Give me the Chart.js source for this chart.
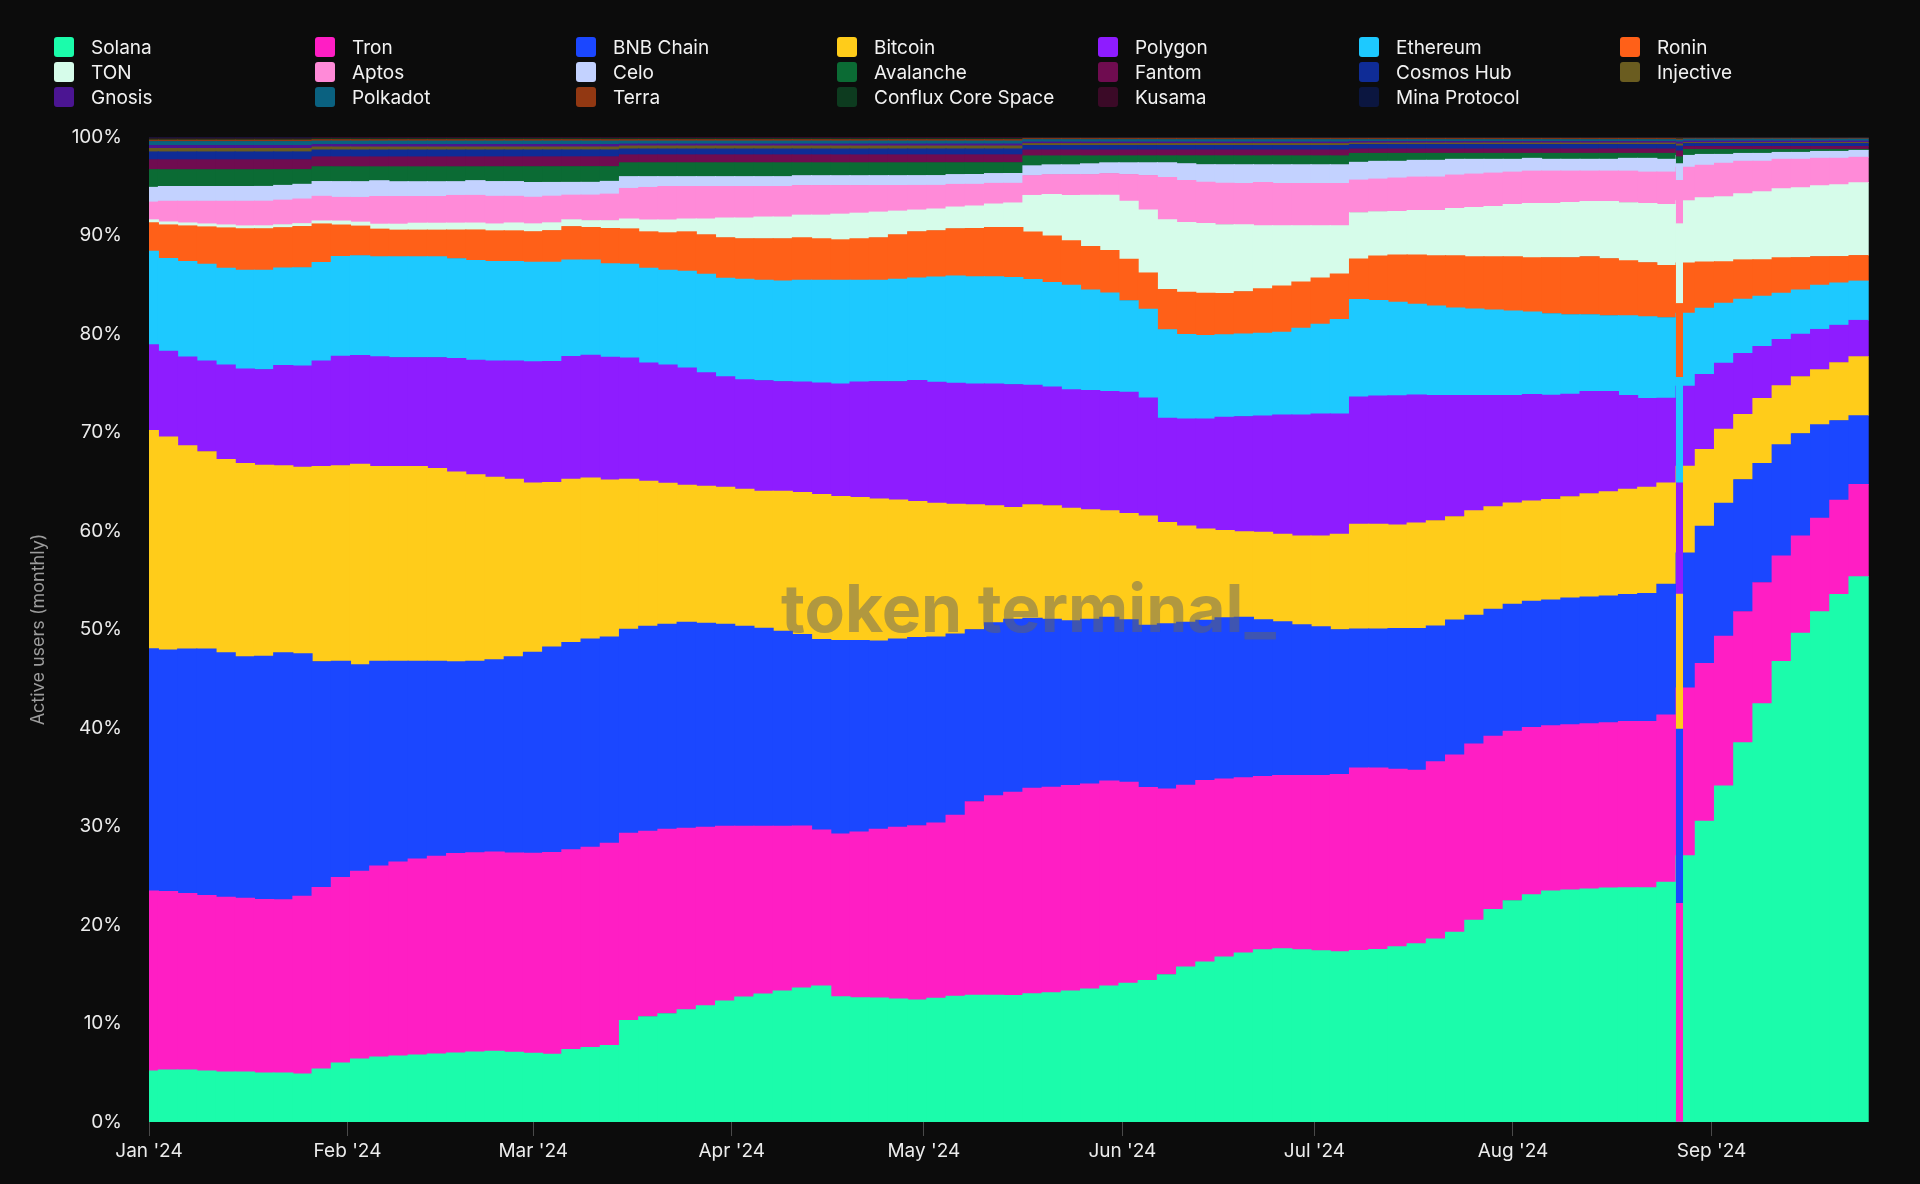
<!DOCTYPE html>
<html lang="en">
<head>
    <meta charset="UTF-8">
    <meta name="viewport" content="width=device-width, initial-scale=1.0">
    <title>Active users (monthly) by chain</title>
    <script src="https://cdn.jsdelivr.net/npm/chart.js"></script>
    <style>
        body {
            margin: 0;
            background-color: #0c0c0c;
            font-family: 'Inter', sans-serif;
            overflow: hidden;
        }
        #wrap {
            position: relative;
            width: 1920px;
            height: 1184px;
        }
        #legend {
            position: absolute;
            left: 54px;
            top: 37px;
            display: grid;
            grid-template-columns: repeat(7, 261px);
            row-gap: 5px;
            z-index: 2;
        }
        .item {
            display: flex;
            align-items: center;
            height: 20px;
            color: #f2f2f2;
            font-size: 19px;
            white-space: nowrap;
        }
        .swatch {
            width: 20px;
            height: 20px;
            border-radius: 3px;
            margin-right: 17px;
            flex: none;
        }
        #chartBox {
            position: absolute;
            left: 0;
            top: 0;
            width: 1920px;
            height: 1184px;
        }
    </style>
</head>
<body>
<div id="wrap">
    <div id="legend"></div>
    <div id="chartBox"><canvas id="usersChart"></canvas></div>
</div>

<script>
    // each bar covers 3 days, starting Jan 1 2024 (day 0) up to Sep 26
    const binDays = 3;
    const monthStartDay = [0, 31, 60, 91, 121, 152, 182, 213, 244];
    const monthLabels = ["Jan '24", "Feb '24", "Mar '24", "Apr '24", "May '24", "Jun '24", "Jul '24", "Aug '24", "Sep '24"];
    const yTicks = [0, 10, 20, 30, 40, 50, 60, 70, 80, 90, 100];

    const seriesNames = ['Solana', 'Tron', 'BNB Chain', 'Bitcoin', 'Polygon', 'Ethereum', 'Ronin',
        'TON', 'Aptos', 'Celo', 'Avalanche', 'Fantom', 'Cosmos Hub', 'Injective',
        'Gnosis', 'Polkadot', 'Terra', 'Conflux Core Space', 'Kusama', 'Mina Protocol'];
    const seriesColors = ['#1bfcab', '#ff1ec4', '#1b47ff', '#ffcc1a', '#8e1cff', '#1dc9ff', '#ff6018',
        '#d6fcea', '#ff8ad8', '#c3d2ff', '#0b6b34', '#6f0c50', '#0f2c96', '#6a5c20',
        '#4b1592', '#0a6180', '#923812', '#0d3b1f', '#3b0a27', '#0b1640'];

    // share of monthly active users, % (one value per 3-day bar)
    const solana = [
        5.2, 5.3, 5.3, 5.2, 5.1, 5.1, 5.0, 5.0, 4.9, 5.4,
        6.0, 6.4, 6.6, 6.7, 6.8, 6.9, 7.0, 7.1, 7.2, 7.1,
        7.0, 6.9, 7.4, 7.6, 7.8, 10.3, 10.7, 11.0, 11.4, 11.8,
        12.3, 12.7, 13.0, 13.3, 13.6, 13.8, 12.7, 12.6, 12.6, 12.5,
        12.4, 12.6, 12.8, 12.9, 12.9, 12.9, 13.0, 13.1, 13.3, 13.5,
        13.8, 14.1, 14.4, 15.0, 15.8, 16.3, 16.8, 17.2, 17.5, 17.6,
        17.5, 17.4, 17.3, 17.4, 17.5, 17.8, 18.1, 18.6, 19.3, 20.5,
        21.6, 22.5, 23.1, 23.5, 23.6, 23.7, 23.8, 23.8, 23.8, 24.4,
        27.0, 30.5, 34.1, 38.5, 42.5, 46.8, 49.7, 51.9, 53.7, 55.5];
    const tron = [
        18.3, 18.1, 17.9, 17.8, 17.7, 17.6, 17.6, 17.6, 18.1, 18.4,
        18.8, 19.0, 19.3, 19.6, 19.8, 20.0, 20.2, 20.2, 20.2, 20.2,
        20.3, 20.5, 20.3, 20.4, 20.6, 19.0, 18.8, 18.7, 18.4, 18.1,
        17.7, 17.3, 17.0, 16.7, 16.4, 15.8, 16.5, 16.8, 17.1, 17.4,
        17.7, 17.8, 18.4, 19.7, 20.3, 20.7, 20.8, 20.8, 20.8, 20.8,
        20.8, 20.4, 19.6, 18.9, 18.5, 18.5, 18.1, 17.8, 17.6, 17.6,
        17.7, 17.8, 18.0, 18.5, 18.4, 18.0, 17.6, 18.0, 18.0, 17.9,
        17.6, 17.2, 17.0, 16.8, 16.8, 16.8, 16.8, 16.9, 16.9, 17.0,
        17.0, 16.0, 15.2, 13.3, 12.3, 10.7, 9.9, 9.5, 9.6, 9.4];
    const bnbChain = [
        24.6, 24.5, 24.8, 25.0, 24.8, 24.5, 24.7, 25.1, 24.7, 22.9,
        21.9, 20.9, 20.7, 20.3, 20.0, 19.7, 19.4, 19.4, 19.5, 19.9,
        20.4, 20.9, 21.1, 21.2, 21.0, 20.7, 20.8, 20.8, 20.9, 20.7,
        20.5, 20.3, 20.1, 19.8, 19.4, 19.3, 19.6, 19.4, 19.1, 19.1,
        19.1, 18.9, 18.4, 17.5, 17.6, 17.6, 17.2, 17.0, 16.7, 16.7,
        16.6, 16.5, 16.5, 16.8, 16.6, 16.3, 16.4, 16.3, 15.9, 15.6,
        15.3, 15.1, 14.7, 14.1, 14.1, 14.3, 14.4, 13.8, 13.7, 13.1,
        12.9, 12.9, 12.8, 12.8, 12.9, 12.9, 12.9, 12.9, 13.0, 13.3,
        13.7, 13.9, 13.5, 13.4, 12.1, 11.3, 10.4, 9.5, 8.1, 7.0];
    const bitcoin = [
        22.2, 21.6, 20.6, 20.0, 19.6, 19.6, 19.4, 19.0, 19.0, 19.8,
        19.8, 20.3, 19.7, 19.7, 19.7, 19.5, 19.2, 18.9, 18.5, 18.0,
        17.2, 16.7, 16.6, 16.4, 16.0, 15.2, 14.7, 14.3, 13.9, 13.9,
        13.9, 13.9, 13.9, 14.2, 14.4, 14.7, 14.6, 14.5, 14.4, 14.1,
        13.8, 13.6, 13.2, 12.7, 11.9, 11.4, 11.5, 11.5, 11.4, 11.1,
        10.8, 10.8, 11.1, 10.3, 9.8, 9.3, 8.9, 8.7, 8.9, 8.9,
        9.0, 9.2, 9.7, 10.6, 10.6, 10.5, 10.7, 10.7, 10.5, 10.6,
        10.4, 10.3, 10.2, 10.2, 10.3, 10.5, 10.6, 10.7, 10.8, 10.3,
        8.8, 7.8, 7.5, 6.6, 6.6, 6.0, 5.8, 5.6, 5.9, 6.0];
    const polygon = [
        8.7, 8.7, 9.0, 9.2, 9.6, 9.6, 9.7, 10.2, 10.3, 10.7,
        11.1, 11.0, 11.1, 11.0, 11.0, 11.2, 11.5, 11.6, 11.8, 12.0,
        12.3, 12.3, 12.5, 12.5, 12.5, 12.3, 12.0, 12.0, 11.9, 11.5,
        11.2, 11.1, 11.2, 11.1, 11.2, 11.3, 11.4, 11.7, 11.9, 12.0,
        12.3, 12.3, 12.3, 12.3, 12.4, 12.5, 12.1, 12.0, 12.0, 12.1,
        12.1, 12.3, 12.0, 10.6, 10.9, 11.2, 11.5, 11.7, 11.8, 12.1,
        12.3, 12.4, 12.2, 12.9, 13.0, 13.1, 13.0, 12.7, 12.3, 11.7,
        11.3, 10.9, 10.8, 10.6, 10.4, 10.4, 10.2, 9.5, 9.0, 8.6,
        8.1, 7.6, 6.7, 6.2, 5.3, 4.7, 4.3, 4.1, 3.8, 3.7];
    const ethereum = [
        9.5, 9.4, 9.7, 9.8, 9.8, 10.0, 10.1, 9.9, 10.0, 10.0,
        10.1, 10.1, 10.1, 10.2, 10.2, 10.2, 10.1, 10.1, 10.1, 10.1,
        10.1, 10.1, 9.8, 9.7, 9.5, 9.5, 9.6, 9.6, 9.8, 10.0,
        10.0, 10.2, 10.2, 10.2, 10.3, 10.4, 10.5, 10.3, 10.3, 10.4,
        10.4, 10.7, 10.9, 10.9, 10.9, 10.9, 10.7, 10.6, 10.6, 10.2,
        10.0, 9.3, 9.0, 9.0, 8.6, 8.5, 8.4, 8.4, 8.4, 8.4,
        8.8, 9.1, 9.6, 9.9, 9.7, 9.5, 9.2, 9.1, 8.9, 8.8,
        8.7, 8.6, 8.4, 8.3, 8.1, 7.8, 7.7, 8.1, 8.3, 8.2,
        7.4, 6.7, 6.1, 5.5, 5.1, 4.7, 4.5, 4.5, 4.3, 4.0];
    const ronin = [
        2.9, 3.4, 3.6, 3.8, 4.1, 4.2, 4.2, 4.1, 4.2, 3.9,
        3.2, 3.0, 2.8, 2.7, 2.7, 2.7, 2.9, 3.1, 3.1, 3.1,
        3.1, 3.2, 3.4, 3.3, 3.6, 3.6, 3.7, 3.8, 4.0, 4.0,
        4.1, 4.1, 4.2, 4.3, 4.3, 4.2, 4.1, 4.2, 4.3, 4.5,
        4.7, 4.7, 4.8, 4.9, 5.0, 5.1, 4.8, 4.7, 4.5, 4.4,
        4.3, 4.2, 3.7, 4.1, 4.3, 4.3, 4.2, 4.3, 4.5, 4.7,
        4.7, 4.7, 4.6, 4.1, 4.5, 4.8, 5.0, 5.1, 5.3, 5.3,
        5.4, 5.5, 5.5, 5.7, 5.8, 5.9, 5.8, 5.6, 5.5, 5.3,
        5.1, 4.7, 4.2, 4.0, 3.7, 3.6, 3.3, 2.9, 2.7, 2.6];
    const ton = [
        0.3, 0.3, 0.3, 0.3, 0.3, 0.3, 0.3, 0.3, 0.3, 0.3,
        0.4, 0.4, 0.5, 0.6, 0.7, 0.7, 0.7, 0.7, 0.7, 0.8,
        0.8, 0.8, 0.7, 0.7, 0.8, 1.0, 1.2, 1.3, 1.3, 1.6,
        2.0, 2.1, 2.2, 2.2, 2.3, 2.4, 2.6, 2.6, 2.6, 2.4,
        2.2, 2.2, 2.2, 2.3, 2.4, 2.5, 3.7, 4.2, 4.6, 5.2,
        5.6, 5.9, 6.4, 7.1, 7.1, 7.1, 7.0, 6.8, 6.4, 6.1,
        5.7, 5.3, 4.9, 4.7, 4.5, 4.4, 4.5, 4.6, 4.8, 5.0,
        5.1, 5.3, 5.5, 5.5, 5.6, 5.6, 5.8, 5.9, 6.0, 6.2,
        6.3, 6.5, 6.6, 6.7, 6.9, 7.0, 7.1, 7.2, 7.3, 7.4];
    const aptos = [
        1.8, 2.1, 2.2, 2.3, 2.4, 2.5, 2.5, 2.5, 2.5, 2.5,
        2.4, 2.5, 2.8, 2.8, 2.7, 2.7, 2.8, 2.8, 2.8, 2.7,
        2.7, 2.7, 2.5, 2.6, 2.7, 3.1, 3.3, 3.4, 3.3, 3.3,
        3.2, 3.2, 3.1, 3.1, 3.0, 3.0, 2.9, 2.8, 2.7, 2.6,
        2.5, 2.4, 2.3, 2.2, 2.1, 2.0, 2.0, 2.0, 2.1, 2.1,
        2.2, 2.7, 3.5, 4.3, 4.3, 4.2, 4.2, 4.2, 4.4, 4.3,
        4.3, 4.3, 4.3, 3.3, 3.3, 3.4, 3.4, 3.4, 3.4, 3.4,
        3.4, 3.3, 3.3, 3.3, 3.2, 3.1, 3.1, 3.2, 3.2, 3.3,
        3.4, 3.3, 3.4, 3.3, 3.1, 3.0, 2.9, 2.8, 2.7, 2.6];
    const celo = [
        1.5, 1.5, 1.5, 1.5, 1.5, 1.5, 1.5, 1.5, 1.5, 1.5,
        1.6, 1.6, 1.6, 1.5, 1.5, 1.5, 1.4, 1.5, 1.5, 1.5,
        1.5, 1.4, 1.3, 1.3, 1.3, 1.2, 1.1, 1.0, 1.0, 1.0,
        1.0, 1.0, 1.0, 1.0, 1.0, 1.0, 1.0, 1.0, 1.0, 1.0,
        1.0, 1.0, 1.0, 1.0, 1.0, 1.0, 1.0, 1.0, 1.0, 1.1,
        1.1, 1.2, 1.3, 1.5, 1.7, 1.8, 1.9, 1.9, 1.8, 1.9,
        1.9, 1.9, 1.9, 1.8, 1.8, 1.7, 1.7, 1.7, 1.6, 1.5,
        1.4, 1.3, 1.3, 1.2, 1.2, 1.2, 1.2, 1.3, 1.4, 1.3,
        1.2, 1.1, 0.9, 0.8, 0.8, 0.7, 0.7, 0.7, 0.7, 0.7];
    const avalanche = [
        1.8, 1.7, 1.7, 1.7, 1.7, 1.7, 1.7, 1.6, 1.5, 1.5,
        1.5, 1.5, 1.4, 1.5, 1.5, 1.5, 1.5, 1.4, 1.5, 1.5,
        1.6, 1.6, 1.6, 1.6, 1.5, 1.4, 1.4, 1.4, 1.4, 1.4,
        1.4, 1.4, 1.4, 1.4, 1.3, 1.3, 1.3, 1.3, 1.3, 1.3,
        1.3, 1.3, 1.2, 1.2, 1.1, 1.1, 1.0, 0.9, 0.9, 0.8,
        0.7, 0.7, 0.7, 0.7, 0.8, 0.9, 0.9, 0.9, 0.9, 0.9,
        0.9, 0.9, 0.9, 0.9, 0.8, 0.8, 0.7, 0.7, 0.6, 0.6,
        0.6, 0.6, 0.5, 0.6, 0.6, 0.6, 0.6, 0.5, 0.5, 0.6,
        0.6, 0.5, 0.5, 0.4, 0.4, 0.3, 0.3, 0.2, 0.2, 0.1];
    const fantom = [
        1.0, 1.0, 1.0, 1.0, 1.0, 1.0, 1.0, 1.0, 1.0, 1.0,
        1.0, 1.0, 1.0, 1.0, 1.0, 1.0, 1.0, 1.0, 1.0, 1.0,
        1.0, 1.0, 1.0, 1.0, 1.0, 0.8, 0.8, 0.8, 0.8, 0.8,
        0.8, 0.8, 0.8, 0.8, 0.8, 0.8, 0.8, 0.8, 0.8, 0.8,
        0.8, 0.8, 0.8, 0.8, 0.8, 0.8, 0.6, 0.6, 0.6, 0.6,
        0.6, 0.6, 0.6, 0.6, 0.6, 0.6, 0.6, 0.6, 0.6, 0.6,
        0.6, 0.6, 0.6, 0.45, 0.45, 0.45, 0.45, 0.45, 0.45, 0.45,
        0.45, 0.45, 0.45, 0.45, 0.45, 0.45, 0.45, 0.45, 0.45, 0.45,
        0.3, 0.3, 0.3, 0.3, 0.3, 0.3, 0.3, 0.3, 0.3, 0.3];
    const cosmosHub = [
        0.8, 0.8, 0.8, 0.8, 0.8, 0.8, 0.8, 0.8, 0.8, 0.7,
        0.7, 0.7, 0.7, 0.7, 0.7, 0.7, 0.7, 0.7, 0.7, 0.7,
        0.7, 0.7, 0.7, 0.7, 0.7, 0.6, 0.6, 0.6, 0.6, 0.6,
        0.6, 0.6, 0.6, 0.6, 0.6, 0.6, 0.6, 0.6, 0.6, 0.6,
        0.6, 0.6, 0.6, 0.6, 0.6, 0.6, 0.45, 0.45, 0.45, 0.45,
        0.45, 0.45, 0.45, 0.45, 0.45, 0.45, 0.45, 0.45, 0.45, 0.45,
        0.45, 0.45, 0.45, 0.45, 0.45, 0.45, 0.45, 0.45, 0.45, 0.45,
        0.45, 0.45, 0.45, 0.45, 0.45, 0.45, 0.45, 0.45, 0.45, 0.45,
        0.3, 0.3, 0.3, 0.3, 0.3, 0.3, 0.3, 0.3, 0.3, 0.3];
    const injective = [
        0.35, 0.35, 0.35, 0.35, 0.35, 0.35, 0.35, 0.35, 0.35, 0.3,
        0.3, 0.3, 0.3, 0.3, 0.3, 0.3, 0.3, 0.3, 0.3, 0.3,
        0.3, 0.3, 0.3, 0.3, 0.3, 0.3, 0.3, 0.3, 0.3, 0.3,
        0.3, 0.3, 0.3, 0.3, 0.3, 0.3, 0.3, 0.3, 0.3, 0.3,
        0.3, 0.3, 0.3, 0.3, 0.3, 0.3, 0.2, 0.2, 0.2, 0.2,
        0.2, 0.2, 0.2, 0.2, 0.2, 0.2, 0.2, 0.2, 0.2, 0.2,
        0.2, 0.2, 0.2, 0.15, 0.15, 0.15, 0.15, 0.15, 0.15, 0.15,
        0.15, 0.15, 0.15, 0.15, 0.15, 0.15, 0.15, 0.15, 0.15, 0.15,
        0.1, 0.1, 0.1, 0.1, 0.1, 0.1, 0.1, 0.1, 0.1, 0.1];
    const gnosis = [
        0.3, 0.3, 0.3, 0.3, 0.3, 0.3, 0.3, 0.3, 0.3, 0.25,
        0.25, 0.25, 0.25, 0.25, 0.25, 0.25, 0.25, 0.25, 0.25, 0.25,
        0.25, 0.25, 0.25, 0.25, 0.25, 0.2, 0.2, 0.2, 0.2, 0.2,
        0.2, 0.2, 0.2, 0.2, 0.2, 0.2, 0.2, 0.2, 0.2, 0.2,
        0.2, 0.2, 0.2, 0.2, 0.2, 0.2, 0.15, 0.15, 0.15, 0.15,
        0.15, 0.15, 0.15, 0.15, 0.15, 0.15, 0.15, 0.15, 0.15, 0.15,
        0.15, 0.15, 0.15, 0.15, 0.15, 0.15, 0.15, 0.15, 0.15, 0.15,
        0.15, 0.15, 0.15, 0.15, 0.15, 0.15, 0.15, 0.15, 0.15, 0.15,
        0.15, 0.15, 0.15, 0.15, 0.15, 0.15, 0.15, 0.15, 0.15, 0.15];
    const polkadot = [
        0.4, 0.4, 0.4, 0.4, 0.4, 0.4, 0.4, 0.4, 0.4, 0.35,
        0.35, 0.35, 0.35, 0.35, 0.35, 0.35, 0.35, 0.35, 0.35, 0.35,
        0.35, 0.35, 0.35, 0.35, 0.35, 0.3, 0.3, 0.3, 0.3, 0.3,
        0.3, 0.3, 0.3, 0.3, 0.3, 0.3, 0.3, 0.3, 0.3, 0.3,
        0.3, 0.3, 0.3, 0.3, 0.3, 0.3, 0.25, 0.25, 0.25, 0.25,
        0.25, 0.25, 0.25, 0.25, 0.25, 0.25, 0.25, 0.25, 0.25, 0.25,
        0.25, 0.25, 0.25, 0.2, 0.2, 0.2, 0.2, 0.2, 0.2, 0.2,
        0.2, 0.2, 0.2, 0.2, 0.2, 0.2, 0.2, 0.2, 0.2, 0.2,
        0.2, 0.2, 0.2, 0.2, 0.2, 0.2, 0.2, 0.2, 0.2, 0.2];
    const terra = [
        0.15, 0.15, 0.15, 0.15, 0.15, 0.15, 0.15, 0.15, 0.15, 0.15,
        0.15, 0.15, 0.15, 0.15, 0.15, 0.15, 0.15, 0.15, 0.15, 0.15,
        0.15, 0.15, 0.15, 0.15, 0.15, 0.15, 0.15, 0.15, 0.15, 0.15,
        0.15, 0.15, 0.15, 0.15, 0.15, 0.15, 0.15, 0.15, 0.15, 0.15,
        0.15, 0.15, 0.15, 0.15, 0.15, 0.15, 0.1, 0.1, 0.1, 0.1,
        0.1, 0.1, 0.1, 0.1, 0.1, 0.1, 0.1, 0.1, 0.1, 0.1,
        0.1, 0.1, 0.1, 0.1, 0.1, 0.1, 0.1, 0.1, 0.1, 0.1,
        0.1, 0.1, 0.1, 0.1, 0.1, 0.1, 0.1, 0.1, 0.1, 0.1,
        0.05, 0.05, 0.05, 0.05, 0.05, 0.05, 0.05, 0.05, 0.05, 0.05];
    const conflux = [
        0.1, 0.1, 0.1, 0.1, 0.1, 0.1, 0.1, 0.1, 0.1, 0.1,
        0.1, 0.1, 0.1, 0.1, 0.1, 0.1, 0.1, 0.1, 0.1, 0.1,
        0.1, 0.1, 0.1, 0.1, 0.1, 0.1, 0.1, 0.1, 0.1, 0.1,
        0.1, 0.1, 0.1, 0.1, 0.1, 0.1, 0.1, 0.1, 0.1, 0.1,
        0.1, 0.1, 0.1, 0.1, 0.1, 0.1, 0.05, 0.05, 0.05, 0.05,
        0.05, 0.05, 0.05, 0.05, 0.05, 0.05, 0.05, 0.05, 0.05, 0.05,
        0.05, 0.05, 0.05, 0.05, 0.05, 0.05, 0.05, 0.05, 0.05, 0.05,
        0.05, 0.05, 0.05, 0.05, 0.05, 0.05, 0.05, 0.05, 0.05, 0.05,
        0.05, 0.05, 0.05, 0.05, 0.05, 0.05, 0.05, 0.05, 0.05, 0.05];
    const kusama = [
        0.1, 0.1, 0.1, 0.1, 0.1, 0.1, 0.1, 0.1, 0.1, 0.1,
        0.1, 0.1, 0.1, 0.1, 0.1, 0.1, 0.1, 0.1, 0.1, 0.1,
        0.1, 0.1, 0.1, 0.1, 0.1, 0.1, 0.1, 0.1, 0.1, 0.1,
        0.1, 0.1, 0.1, 0.1, 0.1, 0.1, 0.1, 0.1, 0.1, 0.1,
        0.1, 0.1, 0.1, 0.1, 0.1, 0.1, 0.05, 0.05, 0.05, 0.05,
        0.05, 0.05, 0.05, 0.05, 0.05, 0.05, 0.05, 0.05, 0.05, 0.05,
        0.05, 0.05, 0.05, 0.05, 0.05, 0.05, 0.05, 0.05, 0.05, 0.05,
        0.05, 0.05, 0.05, 0.05, 0.05, 0.05, 0.05, 0.05, 0.05, 0.05,
        0.05, 0.05, 0.05, 0.05, 0.05, 0.05, 0.05, 0.05, 0.05, 0.05];
    const minaProtocol = [
        0.1, 0.1, 0.1, 0.1, 0.1, 0.1, 0.1, 0.1, 0.1, 0.05,
        0.05, 0.05, 0.05, 0.05, 0.05, 0.05, 0.05, 0.05, 0.05, 0.05,
        0.05, 0.05, 0.05, 0.05, 0.05, 0.05, 0.05, 0.05, 0.05, 0.05,
        0.05, 0.05, 0.05, 0.05, 0.05, 0.05, 0.05, 0.05, 0.05, 0.05,
        0.05, 0.05, 0.05, 0.05, 0.05, 0.05, 0.05, 0.05, 0.05, 0.05,
        0.05, 0.05, 0.05, 0.05, 0.05, 0.05, 0.05, 0.05, 0.05, 0.05,
        0.05, 0.05, 0.05, 0.05, 0.05, 0.05, 0.05, 0.05, 0.05, 0.05,
        0.05, 0.05, 0.05, 0.05, 0.05, 0.05, 0.05, 0.05, 0.05, 0.05,
        0.05, 0.05, 0.05, 0.05, 0.05, 0.05, 0.05, 0.05, 0.05, 0.05];

    // Aug 26 (day 238): Solana missing from the data for one day
    const glitchDay = 238;
    const glitchShares = [0, 22.2, 17.7, 13.7, 11.3, 10.7, 7.5, 8.1, 4.4, 1.7, 0.7,
        0.6, 0.5, 0.2, 0.2, 0.2, 0.1, 0.1, 0.1, 0.0];

    const seriesValues = [solana, tron, bnbChain, bitcoin, polygon, ethereum, ronin, ton, aptos,
        celo, avalanche, fantom, cosmosHub, injective, gnosis, polkadot, terra, conflux, kusama, minaProtocol];

    // legend
    const legendEl = document.getElementById('legend');
    seriesNames.forEach((name, i) => {
        const item = document.createElement('div');
        item.className = 'item';
        item.innerHTML = `<span class="swatch" style="background:${seriesColors[i]}"></span>${name}`;
        legendEl.appendChild(item);
    });

    // normalise every bar to 100%
    const totals = solana.map((_, i) => seriesValues.reduce((s, arr) => s + arr[i], 0));
    const glitchTotal = glitchShares.reduce((s, v) => s + v, 0);

    // plot spans 1729px for 270 days
    const dayPx = 1729 / 270;

    const mainSets = seriesValues.map((arr, k) => ({
        label: seriesNames[k],
        data: arr.map((v, i) => ({ x: i * binDays + binDays / 2, y: v / totals[i] * 100 })),
        backgroundColor: seriesColors[k],
        borderWidth: 0,
        barThickness: dayPx * binDays + 0.4,
        xAxisID: 'x',
        yAxisID: 'y'
    }));
    // drawn over the main bars (lower order is painted last)
    const glitchSets = glitchShares.map((v, k) => ({
        label: seriesNames[k] + ' (Aug 26)',
        data: [{ x: glitchDay + 0.5, y: v / glitchTotal * 100 }],
        backgroundColor: seriesColors[k],
        borderWidth: 0,
        barThickness: dayPx,
        order: -1,
        xAxisID: 'xg',
        yAxisID: 'y'
    }));

    const watermark = {
        id: 'watermark',
        afterDatasetsDraw(chart) {
            const { ctx, chartArea } = chart;
            ctx.save();
            ctx.font = 'bold 66px Inter';
            ctx.fillStyle = 'rgba(100, 100, 100, 0.5)';
            ctx.textAlign = 'center';
            ctx.textBaseline = 'alphabetic';
            ctx.fillText('token terminal_', (chartArea.left + chartArea.right) / 2 + 15, 632);
            ctx.restore();
        }
    };

    Chart.defaults.font.family = 'Inter';

    new Chart(document.getElementById('usersChart'), {
        type: 'bar',
        data: { datasets: mainSets.concat(glitchSets) },
        options: {
            responsive: true,
            maintainAspectRatio: false,
            animation: false,
            layout: { padding: { left: 0, top: 137, right: 42, bottom: 12 } },
            plugins: {
                legend: { display: false },
                tooltip: { enabled: false }
            },
            scales: {
                x: {
                    type: 'linear',
                    min: 0,
                    max: 270,
                    offset: false,
                    stacked: true,
                    grid: { display: true, drawOnChartArea: false, drawTicks: true, tickLength: 14, color: '#4a4a4a', offset: false },
                    border: { display: false },
                    afterBuildTicks: (scale) => { scale.ticks = monthStartDay.map(v => ({ value: v })); },
                    ticks: {
                        color: '#ececec',
                        font: { size: 19 },
                        padding: 4,
                        maxRotation: 0,
                        autoSkip: false,
                        callback: (v) => monthLabels[monthStartDay.indexOf(v)] || ''
                    },
                    afterFit: (scale) => { scale.height = 50; }
                },
                xg: {
                    type: 'linear',
                    min: 0,
                    max: 270,
                    offset: false,
                    stacked: true,
                    display: false
                },
                y: {
                    stacked: true,
                    min: 0,
                    max: 100,
                    grid: { display: false, drawTicks: false },
                    border: { display: false },
                    afterBuildTicks: (scale) => { scale.ticks = yTicks.map(v => ({ value: v })); },
                    ticks: {
                        color: '#ececec',
                        font: { size: 19 },
                        padding: 27,
                        callback: (v) => v + '%'
                    },
                    title: {
                        display: true,
                        text: 'Active users (monthly)',
                        color: '#9c9c9c',
                        font: { size: 18 },
                        padding: { top: 28, bottom: 0 }
                    },
                    afterFit: (scale) => { scale.width = 149; }
                }
            }
        },
        plugins: [watermark]
    });
</script>
</body>
</html>
